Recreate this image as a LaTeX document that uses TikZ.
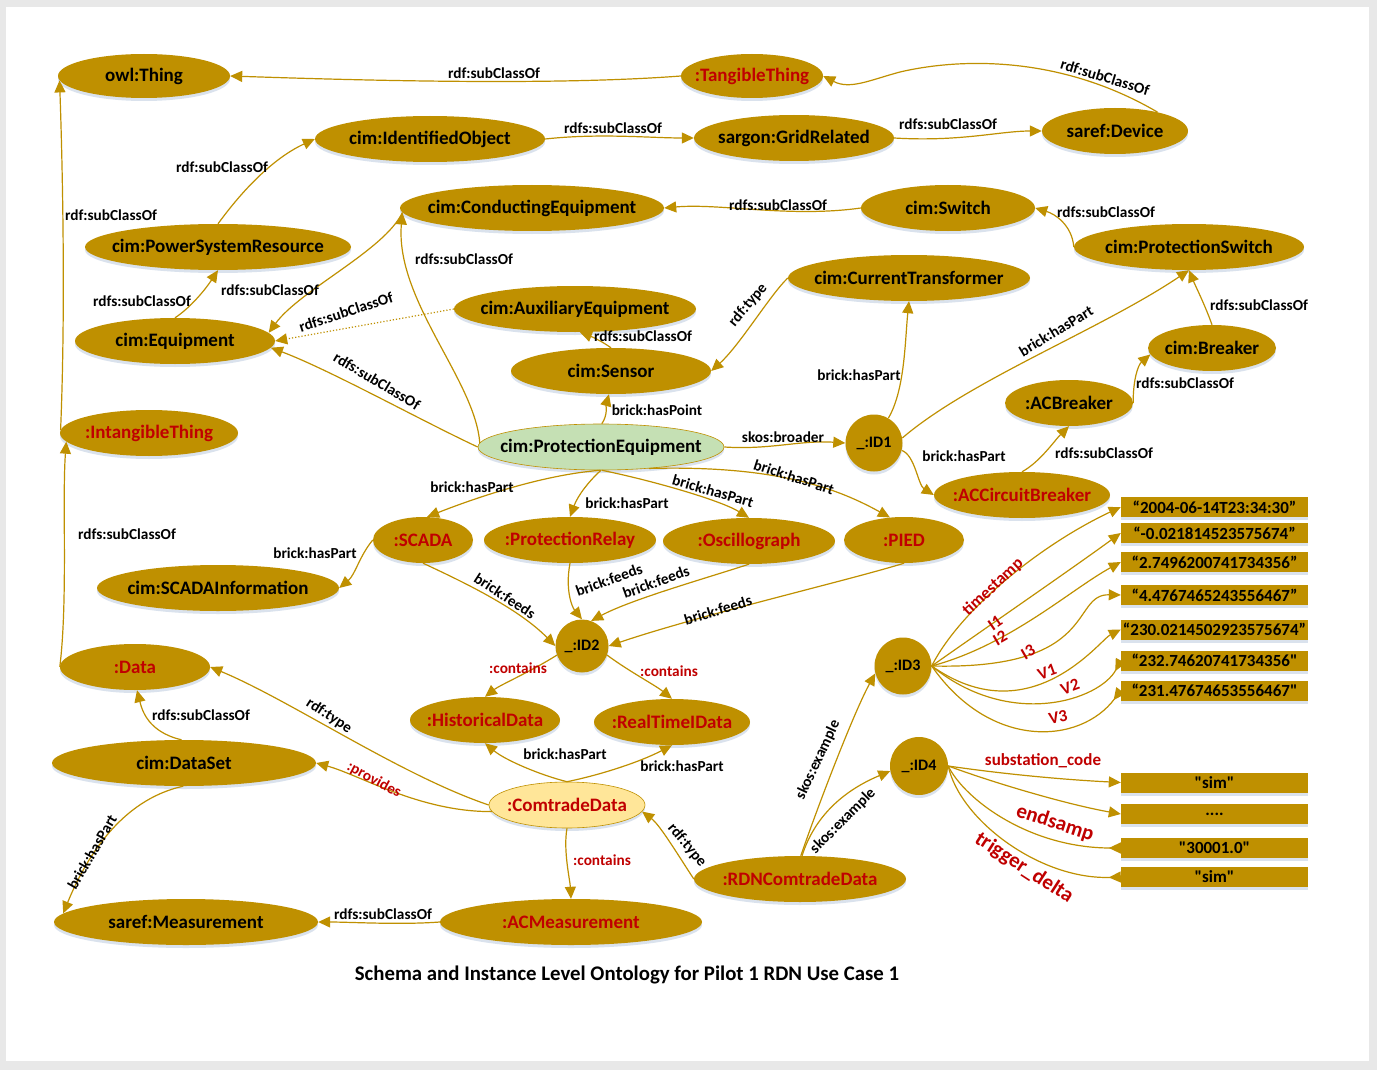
\documentclass[tikz,border=0pt]{standalone}
\usepackage{fontspec}
\setmainfont{Carlito}[Ligatures=TeXOff]
\usetikzlibrary{shapes.geometric,arrows.meta,shadows}
\definecolor{gold}{HTML}{BF9000}
\definecolor{redt}{HTML}{C00000}
\definecolor{pegreen}{HTML}{C5E0B4}
\definecolor{cdyellow}{HTML}{FFE699}
\definecolor{framegray}{HTML}{E8E8E8}
\definecolor{shadowc}{HTML}{D6DFEC}
\newcommand{\zt}[1]{\makebox[0pt]{#1}}
\begin{document}
\begin{tikzpicture}[x=1pt,y=-1pt,
  softshadow/.style={drop shadow={shadow xshift=0pt, shadow yshift=-3pt, fill=shadowc, opacity=0.9}},
  cls/.style={ellipse, fill=gold, inner sep=0pt, softshadow, font=\fontsize{19}{19}\selectfont\bfseries},
  inst/.style={cls, text=redt},
  sz/.style 2 args={minimum width=#1pt, minimum height=#2pt},
  bnode/.style={circle, fill=gold, inner sep=0pt, softshadow, minimum size=57pt, font=\fontsize{16}{16}\selectfont\bfseries},
  lit/.style={rectangle, fill=gold, inner sep=0pt, softshadow, minimum width=187pt, minimum height=20pt, font=\fontsize{17}{17}\selectfont\bfseries},
  edge/.style={draw=gold, line width=1.2pt, -{Triangle[length=12pt,width=11pt]}},
  redge/.style={draw=gold, line width=1.2pt, -{Triangle[length=12pt,width=11pt,reversed]}},
  lbl/.style={font=\fontsize{15.3}{15.3}\selectfont\bfseries, inner sep=0pt},
  rlbl/.style={lbl, text=redt},
  blbl/.style={font=\fontsize{17}{17}\selectfont\bfseries, inner sep=0pt, text=redt},
  hlbl/.style={font=\fontsize{21}{21}\selectfont\bfseries, inner sep=0pt, text=redt},
]
\useasboundingbox (0,0) rectangle (1377,1070);
\fill[framegray] (0,0) rectangle (1377,1070);
\fill[white] (6,7) rectangle (1369,1061);

% ---------------- nodes ----------------
\node[cls, sz={172}{44}] (owl) at (144,76) {\zt{owl:Thing}};
\node[inst, sz={142}{44}] (tt) at (752,76) {\zt{:TangibleThing}};
\node[cls, sz={230}{46}] (io) at (430,139) {\zt{cim:IdentifiedObject}};
\node[cls, sz={200}{46}] (gr) at (794,138) {\zt{sargon:GridRelated}};
\node[cls, sz={146}{46}] (sdev) at (1115,131) {\zt{saref:Device}};
\node[cls, sz={264}{46}] (ce) at (532,208) {\zt{cim:ConductingEquipment}};
\node[cls, sz={174}{46}] (sw) at (948,208) {\zt{cim:Switch}};
\node[cls, sz={266}{46}] (psr) at (218,247) {\zt{cim:PowerSystemResource}};
\node[cls, sz={230}{46}] (ps) at (1189,247) {\zt{cim:ProtectionSwitch}};
\node[cls, sz={242}{46}] (ct) at (909,278) {\zt{cim:CurrentTransformer}};
\node[cls, sz={242}{46}] (aux) at (575,309) {\zt{cim:AuxiliaryEquipment}};
\node[cls, sz={200}{46}] (eq) at (175,341) {\zt{cim:Equipment}};
\node[cls, sz={128}{46}] (brk) at (1212,348) {\zt{cim:Breaker}};
\node[cls, sz={200}{46}] (sen) at (611,371) {\zt{cim:Sensor}};
\node[cls, sz={128}{46}] (acb) at (1069,403) {\zt{:ACBreaker}};
\node[inst, sz={178}{46}] (intg) at (149,433) {\zt{:IntangibleThing}};
\node[cls, sz={246}{46}, fill=pegreen, draw=gold, line width=0.6pt] (pe) at (601,447) {\zt{cim:ProtectionEquipment}};
\node[bnode] (id1) at (874,443) {\_:ID1};
\node[inst, sz={176}{46}] (accb) at (1022,495) {\zt{:ACCircuitBreaker}};
\node[inst, sz={100}{46}] (scada) at (423,540) {\zt{:SCADA}};
\node[inst, sz={172}{46}] (pr) at (570,540) {\zt{:ProtectionRelay}};
\node[inst, sz={172}{46}] (osc) at (749,541) {\zt{:Oscillograph}};
\node[inst, sz={120}{46}] (pied) at (904,540) {\zt{:PIED}};
\node[cls, sz={242}{46}] (sinfo) at (218,588) {\zt{cim:SCADAInformation}};
\node[bnode, minimum size=53pt] (id2) at (582,646) {\_:ID2};
\node[bnode] (id3) at (903,666) {\_:ID3};
\node[inst, sz={150}{46}] (data) at (135,667) {\zt{:Data}};
\node[inst, sz={150}{46}] (hist) at (485,720) {\zt{:HistoricalData}};
\node[inst, sz={156}{46}] (rt) at (672,722) {\zt{:RealTimeIData}};
\node[cls, sz={264}{46}] (ds) at (184,763) {\zt{cim:DataSet}};
\node[bnode, minimum size=58pt] (id4) at (919,766) {\_:ID4};
\node[inst, sz={156}{46}, fill=cdyellow, draw=gold, line width=0.6pt] (cd) at (567,805) {\zt{:ComtradeData}};
\node[inst, sz={212}{46}] (rdn) at (800,879) {\zt{:RDNComtradeData}};
\node[cls, sz={264}{46}] (meas) at (186,922) {\zt{saref:Measurement}};
\node[inst, sz={262}{46}] (acm) at (571,922) {\zt{:ACMeasurement}};

% literal boxes
\node[lit] (lit1) at (1214.5,507) {“2004-06-14T23:34:30”};
\node[lit] (lit2) at (1214.5,533) {“-0.021814523575674”};
\node[lit] (lit3) at (1214.5,562) {“2.7496200741734356”};
\node[lit] (lit4) at (1214.5,595) {“4.4767465243556467”};
\node[lit] (lit5) at (1214.5,629.5) {“230.0214502923575674”};
\node[lit] (lit6) at (1214.5,660.5) {“232.74620741734356"};
\node[lit] (lit7) at (1214.5,690.5) {“231.47674653556467"};
\node[lit] (lit8) at (1214.5,782.5) {"sim"};
\node[lit] (lit9) at (1214.5,814) {....};
\node[lit] (lit10) at (1214.5,848) {"30001.0"};
\node[lit] (lit11) at (1214.5,877) {"sim"};

% ---------------- connectors ----------------
\draw[edge] (tt.west) .. controls (550,86) and (350,80) .. (owl.east);
\draw[edge] (sdev.24) .. controls (1060,55) and (960,58) .. (900,72) .. controls (870,80) and (850,90) .. (tt.east);
\draw[edge] (io.east) .. controls (600,133) and (650,138) .. (gr.west);
\draw[edge] (gr.east) .. controls (960,142) and (1000,131) .. (sdev.west);
\draw[edge] (psr.north) .. controls (250,180) and (280,155) .. (io.west);
\draw[edge] (intg.178) .. controls (66,300) and (62,150) .. (owl.183);
\draw[edge] (data.west) .. controls (68,600) and (62,500) .. (intg.186);
\draw[edge] (sw.west) .. controls (790,218) and (720,203) .. (ce.east);
\draw[edge] (ps.west) .. controls (1072,225) and (1055,214) .. (sw.east);
\draw[edge] (brk.north) .. controls (1205,305) and (1195,285) .. (ps.south);
\draw[edge] (acb.east) .. controls (1133,380) and (1138,365) .. (brk.186);
\draw[edge] (accb.north) .. controls (1040,462) and (1055,440) .. (acb.south);
\draw[edge] (id1.-15) .. controls (915,455) and (918,485) .. (accb.west);
\draw[edge] (id1.10) .. controls (970,380) and (1100,330) .. (ps.south);
\draw[edge] (id1.60) .. controls (905,390) and (905,340) .. (ct.south);
\draw[edge] (ct.west) .. controls (770,295) and (740,345) .. (sen.east);
\draw[edge] (sen.north) .. controls (600,340) and (590,336) .. (aux.282);
\draw[edge, dotted] (aux.west) -- (eq.east);
\draw[edge] (ce.182) .. controls (385,250) and (300,290) .. (eq.5);
\draw[edge] (eq.north) .. controls (190,308) and (205,290) .. (psr.south);
\draw[edge] (pe.west) .. controls (420,420) and (330,370) .. (eq.-4);
\draw[edge] (pe.178) .. controls (475,380) and (395,300) .. (ce.182);
\draw[edge] (pe.88) .. controls (608,415) and (606,405) .. (sen.265);
\draw[edge] (pe.east) .. controls (770,450) and (800,440) .. (id1.west);
\draw[edge] (pe.268) .. controls (540,475) and (470,500) .. (scada.80);
\draw[edge] (pe.270) .. controls (590,480) and (578,495) .. (pr.north);
\draw[edge] (pe.272) .. controls (650,480) and (720,500) .. (osc.north);
\draw[edge] (pe.-24) .. controls (780,465) and (840,490) .. (pied.122);
\draw[edge] (scada.west) .. controls (360,555) and (355,575) .. (sinfo.east);
\draw[edge] (scada.south) .. controls (470,585) and (520,610) .. (id2.west);
\draw[edge] (pr.south) .. controls (565,590) and (572,607) .. (id2.north);
\draw[edge] (osc.south) .. controls (700,580) and (630,600) .. (id2.70);
\draw[edge] (pied.south) .. controls (850,580) and (700,615) .. (id2.east);
\draw[edge] (id2.200) .. controls (530,672) and (500,685) .. (hist.north);
\draw[edge] (id2.-20) .. controls (630,672) and (655,685) .. (rt.north);
\draw[edge] (cd.north) .. controls (540,775) and (505,760) .. (hist.south);
\draw[edge] (cd.north) .. controls (600,775) and (640,762) .. (rt.south);
\draw[edge] (cd.west) .. controls (400,775) and (290,700) .. (data.east);
\draw[edge] (cd.185) .. controls (420,812) and (360,775) .. (ds.east);
\draw[edge] (ds.96) .. controls (148,732) and (142,710) .. (data.-85);
\draw[edge] (ds.-92) .. controls (120,800) and (85,860) .. (meas.176);
\draw[edge] (acm.west) .. controls (400,925) and (350,922) .. (meas.east);
\draw[edge] (cd.south) .. controls (563,850) and (570,880) .. (acm.north);
\draw[edge] (rdn.west) .. controls (678,855) and (660,825) .. (cd.-5);
\draw[edge] (rdn.88) .. controls (820,800) and (855,710) .. (id3.195);
\draw[edge] (rdn.85) .. controls (815,815) and (845,790) .. (id4.190);
% _:ID3 values
\draw[edge] (id3.east) .. controls (960,610) and (1040,545) .. (lit1.west);
\draw[edge] (id3.east) .. controls (990,625) and (1070,570) .. (lit2.west);
\draw[edge] (id3.east) .. controls (1010,645) and (1070,590) .. (lit3.west);
\draw[edge] (id3.east) .. controls (1100,670) and (1070,594) .. (lit4.west);
\draw[edge] (id3.east) .. controls (1030,735) and (1100,640) .. (lit5.west);
\draw[redge] (id3.east) .. controls (1010,730) and (1100,700) .. (lit6.west);
\draw[redge] (id3.east) .. controls (990,750) and (1080,745) .. (lit7.west);
% _:ID4 values
\draw[edge] (id4.east) .. controls (1010,775) and (1070,780) .. (lit8.west);
\draw[edge] (id4.east) .. controls (1000,785) and (1070,805) .. (lit9.west);
\draw[redge] (id4.east) .. controls (965,800) and (1030,848) .. (lit10.west);
\draw[redge] (id4.east) .. controls (960,820) and (1040,880) .. (lit11.west);

% ---------------- labels ----------------
\node[lbl] (l1) at (494,73) {rdf:subClassOf};
\node[lbl, rotate=-17] (l2) at (1105,77) {rdf:subClassOf};
\node[lbl] (l3) at (613,128) {rdfs:subClassOf};
\node[lbl] (l4) at (948,124) {rdfs:subClassOf};
\node[lbl] (l5) at (222,167) {rdf:subClassOf};
\node[lbl] (l6) at (111,215) {rdf:subClassOf};
\node[lbl] (l7) at (127,534) {rdfs:subClassOf};
\node[lbl] (l8) at (778,205) {rdfs:subClassOf};
\node[lbl] (l9) at (1106,212) {rdfs:subClassOf};
\node[lbl] (l10) at (1259,305) {rdfs:subClassOf};
\node[lbl] (l11) at (1185,383) {rdfs:subClassOf};
\node[lbl] (l12) at (1104,453) {rdfs:subClassOf};
\node[lbl] (l13) at (964,456) {brick:hasPart};
\node[lbl, rotate=31] (l14) at (1056,331) {brick:hasPart};
\node[lbl] (l15) at (859,375) {brick:hasPart};
\node[lbl, rotate=50] (l16) at (748,305) {rdf:type};
\node[lbl] (l17) at (643,336) {rdfs:subClassOf};
\node[lbl, rotate=18] (l18) at (346,312) {rdfs:subClassOf};
\node[lbl] (l19) at (270,290) {rdfs:subClassOf};
\node[lbl] (l20) at (142,301) {rdfs:subClassOf};
\node[lbl, rotate=-31] (l21) at (377,381) {rdfs:subClassOf};
\node[lbl] (l22) at (464,259) {rdfs:subClassOf};
\node[lbl] (l23) at (657,410) {brick:hasPoint};
\node[lbl] (l24) at (783,437) {skos:broader};
\node[lbl] (l25) at (472,487) {brick:hasPart};
\node[lbl] (l26) at (627,503) {brick:hasPart};
\node[lbl, rotate=-16] (l27) at (713,491) {brick:hasPart};
\node[lbl, rotate=-18] (l28) at (794,477) {brick:hasPart};
\node[lbl] (l29) at (315,553) {brick:hasPart};
\node[lbl, rotate=-33] (l30) at (505,596) {brick:feeds};
\node[lbl, rotate=20] (l31) at (609,580) {brick:feeds};
\node[lbl, rotate=20] (l32) at (656,582) {brick:feeds};
\node[lbl, rotate=17] (l33) at (718,610) {brick:feeds};
\node[rlbl] (l34) at (518,668) {:contains};
\node[rlbl] (l35) at (669,671) {:contains};
\node[lbl] (l36) at (565,754) {brick:hasPart};
\node[lbl] (l37) at (682,766) {brick:hasPart};
\node[lbl, rotate=-33] (l38) at (329,716) {rdf:type};
\node[rlbl, rotate=-28] (l39) at (374,780) {:provides};
\node[lbl] (l40) at (201,715) {rdfs:subClassOf};
\node[lbl, rotate=60] (l41) at (92,852) {brick:hasPart};
\node[lbl] (l42) at (383,914) {rdfs:subClassOf};
\node[rlbl] (l43) at (602,860) {:contains};
\node[lbl, rotate=-50] (l44) at (687,845) {rdf:type};
\node[lbl, rotate=65] (l45) at (818,760) {skos:example};
\node[lbl, rotate=45] (l46) at (843,821) {skos:example};
\node[blbl, rotate=43] (l47) at (993,587) {timestamp};
\node[blbl, rotate=35] (l48) at (995,623) {I1};
\node[blbl, rotate=30] (l49) at (1000,638) {I2};
\node[blbl, rotate=30] (l50) at (1028,652) {I3};
\node[blbl, rotate=20] (l51) at (1047,672) {V1};
\node[blbl, rotate=20] (l52) at (1070,687) {V2};
\node[blbl, rotate=12] (l53) at (1058,717) {V3};
\node[blbl] (l54) at (1043,761) {substation\_code};
\node[hlbl, rotate=-18] (l55) at (1055,823) {endsamp};
\node[hlbl, rotate=-33] (l56) at (1024,868) {trigger\_delta};

% title
\node[font=\fontsize{20.8}{20.8}\selectfont\bfseries, inner sep=0pt] (title) at (627,975) {Schema and Instance Level Ontology for Pilot 1 RDN Use Case 1};
\end{tikzpicture}
\end{document}
